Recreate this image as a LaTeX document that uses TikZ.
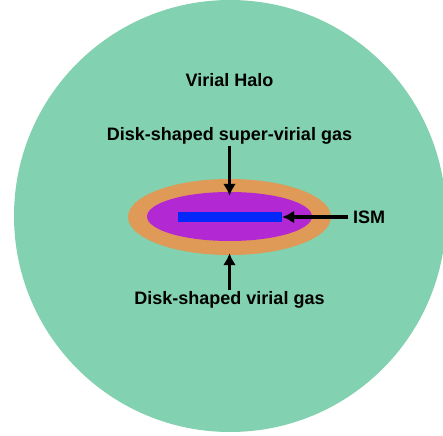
\documentclass[tikz,border=0pt]{standalone}
\usepackage{fontspec}
\setmainfont{Liberation Sans}
\usetikzlibrary{positioning, arrows.meta, shapes.geometric}
\definecolor{halogreen}{RGB}{130,209,176}
\definecolor{diskorange}{RGB}{222,154,86}
\definecolor{diskpurple}{RGB}{178,40,210}
\definecolor{ismblue}{RGB}{5,40,250}
\tikzset{%
  label text/.style={font=\bfseries\fontsize{18}{21}\selectfont, inner sep=1pt},
  pointer/.style={draw, line width=3.2pt, -{Latex[length=12pt,width=13pt]}}
}

\begin{document}
\begin{tikzpicture}[x=1pt, y=-1pt]
\useasboundingbox (0,0) rectangle (443,435);

\node[circle, fill=halogreen, minimum size=432pt, inner sep=0pt] (halo) at (230,216) {};
\node[ellipse, fill=diskorange, minimum width=203pt, minimum height=76pt, inner sep=0pt] (outer) at (229.5,217) {};
\node[ellipse, fill=diskpurple, minimum width=165pt, minimum height=49pt, inner sep=0pt] (inner) at (229.5,216.5) {};
\node[rectangle, fill=ismblue, minimum width=104pt, minimum height=10pt, inner sep=0pt] (band) at (230,217) {};

\node[label text] (halotxt) at (229.5,80) {Virial Halo};
\node[label text] (super) at (229.5,136) {Disk-shaped super-virial gas};
\node[label text] (virial) at (229.5,300) {Disk-shaped virial gas};
\node[label text, anchor=west, inner sep=5pt] (ism) at (348,217) {ISM};

\draw[pointer] (super.south) -- ([yshift=-4pt]inner.north);
\draw[pointer] (virial.north) -- ([yshift=2pt]outer.south);
\draw[pointer] (ism.west) -- (band.east);

\end{tikzpicture}
\end{document}
